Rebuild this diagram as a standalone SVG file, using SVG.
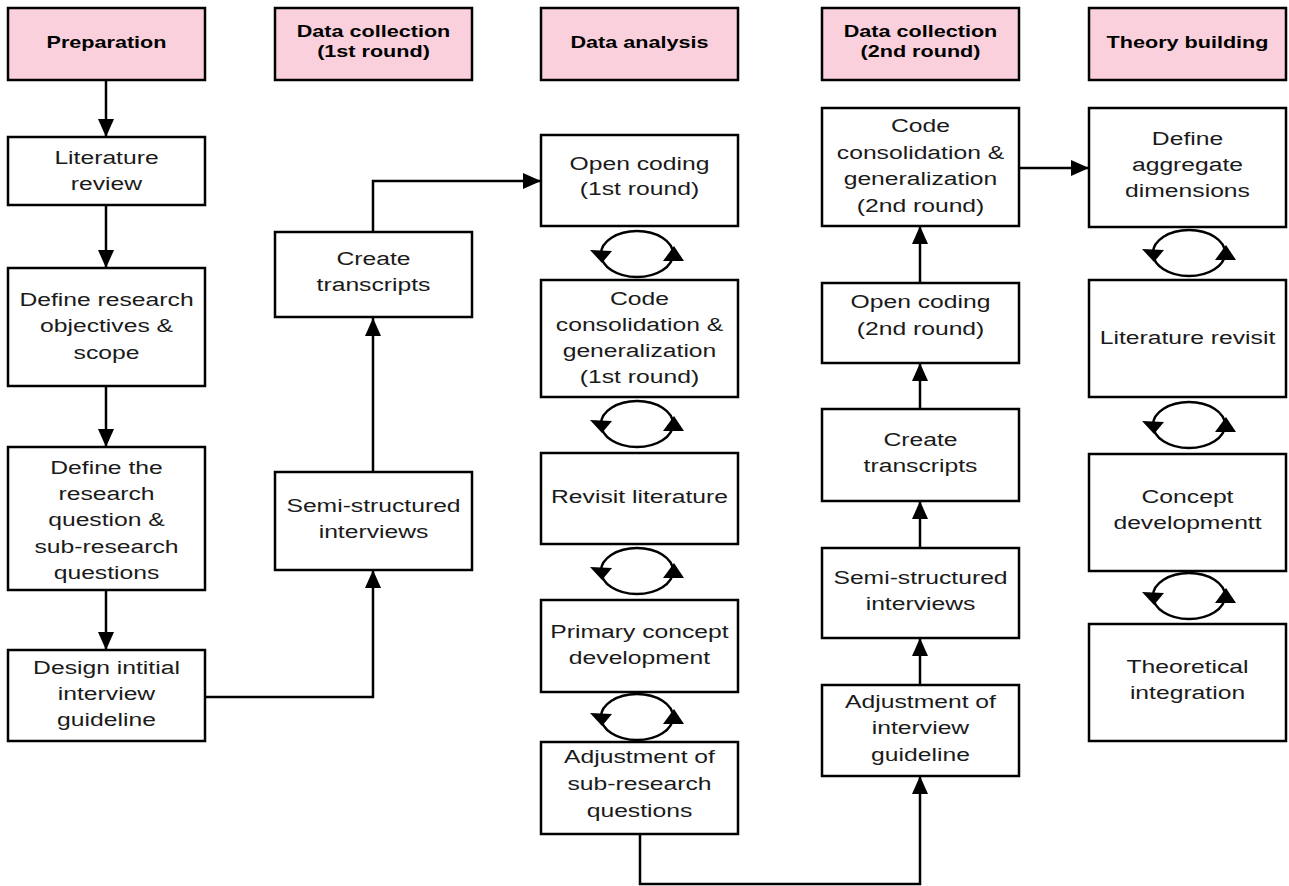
<svg xmlns="http://www.w3.org/2000/svg" width="1289" height="886" viewBox="0 0 1289 886">
<style>
.box{fill:#ffffff;stroke:#000000;stroke-width:2.5}
.hdr{fill:#f9d0dc;stroke:#000000;stroke-width:2.5}
.t{font-family:"Liberation Sans",Arial,sans-serif;font-size:19px;fill:#1a1a1a;text-anchor:middle}
.h{font-family:"Liberation Sans",Arial,sans-serif;font-size:17px;font-weight:bold;fill:#000000;text-anchor:middle}
.c{fill:none;stroke:#000000;stroke-width:2.5}
.cy{fill:none;stroke:#000000;stroke-width:2.5}
</style>
<defs>
<marker id="ah" markerUnits="userSpaceOnUse" markerWidth="18" markerHeight="16" refX="18" refY="8" orient="auto">
<path d="M0,0 L18,8 L0,16 z" fill="#000000"/>
</marker>
<g id="cycle">
<ellipse cx="0" cy="0" rx="36" ry="23" class="cy"/>
<polygon points="-47,-4 -25,-3 -35,9" fill="#000000"/>
<polygon points="26,7 47,7 37,-8" fill="#000000"/>
</g>
</defs>
<rect width="1289" height="886" fill="#ffffff"/>

<g id="headers">
<g id="h-prep"><rect class="hdr" x="8" y="8" width="197" height="72"/><text class="h" transform="matrix(1.27 0 0 1 106.5 0)"><tspan x="0" y="48">Preparation</tspan></text></g>
<g id="h-dc1"><rect class="hdr" x="275" y="8" width="197" height="72"/><text class="h" transform="matrix(1.27 0 0 1 373.5 0)"><tspan x="0" y="37">Data collection</tspan><tspan x="0" y="57">(1st round)</tspan></text></g>
<g id="h-da"><rect class="hdr" x="541" y="8" width="197" height="72"/><text class="h" transform="matrix(1.27 0 0 1 639.5 0)"><tspan x="0" y="48">Data analysis</tspan></text></g>
<g id="h-dc2"><rect class="hdr" x="822" y="8" width="197" height="72"/><text class="h" transform="matrix(1.27 0 0 1 920.5 0)"><tspan x="0" y="37">Data collection</tspan><tspan x="0" y="57">(2nd round)</tspan></text></g>
<g id="h-tb"><rect class="hdr" x="1089" y="8" width="197" height="72"/><text class="h" transform="matrix(1.27 0 0 1 1187.5 0)"><tspan x="0" y="48">Theory building</tspan></text></g>
</g>

<g id="connectors">
<line class="c" x1="106" y1="80" x2="106" y2="137" marker-end="url(#ah)"/>
<line class="c" x1="106" y1="205" x2="106" y2="268" marker-end="url(#ah)"/>
<line class="c" x1="106" y1="386" x2="106" y2="447" marker-end="url(#ah)"/>
<line class="c" x1="106" y1="590" x2="106" y2="650" marker-end="url(#ah)"/>
<polyline class="c" points="205,697 373,697 373,570" marker-end="url(#ah)"/>
<line class="c" x1="373" y1="472" x2="373" y2="318" marker-end="url(#ah)"/>
<polyline class="c" points="373,232 373,181 541,181" marker-end="url(#ah)"/>
<polyline class="c" points="640,834 640,884 920,884 920,776" marker-end="url(#ah)"/>
<line class="c" x1="920" y1="685" x2="920" y2="638" marker-end="url(#ah)"/>
<line class="c" x1="920" y1="548" x2="920" y2="501" marker-end="url(#ah)"/>
<line class="c" x1="920" y1="409" x2="920" y2="363" marker-end="url(#ah)"/>
<line class="c" x1="920" y1="283" x2="920" y2="226" marker-end="url(#ah)"/>
<line class="c" x1="1019" y1="168" x2="1089" y2="168" marker-end="url(#ah)"/>
<use href="#cycle" x="637" y="254"/>
<use href="#cycle" x="637" y="424"/>
<use href="#cycle" x="637" y="571"/>
<use href="#cycle" x="637" y="717"/>
<use href="#cycle" x="1189" y="253"/>
<use href="#cycle" x="1189" y="425"/>
<use href="#cycle" x="1189" y="596"/>
</g>

<g id="n-lit"><rect class="box" x="8" y="137" width="197" height="68"/><text class="t" transform="matrix(1.3 0 0 1 106.5 0)"><tspan x="0" y="164">Literature</tspan><tspan x="0" y="190">review</tspan></text></g>
<g id="n-obj"><rect class="box" x="8" y="268" width="197" height="118"/><text class="t" transform="matrix(1.3 0 0 1 106.5 0)"><tspan x="0" y="306">Define research</tspan><tspan x="0" y="332">objectives &amp;</tspan><tspan x="0" y="359">scope</tspan></text></g>
<g id="n-rq"><rect class="box" x="8" y="447" width="197" height="143"/><text class="t" transform="matrix(1.3 0 0 1 106.5 0)"><tspan x="0" y="474">Define the</tspan><tspan x="0" y="500">research</tspan><tspan x="0" y="526">question &amp;</tspan><tspan x="0" y="553">sub-research</tspan><tspan x="0" y="579">questions</tspan></text></g>
<g id="n-design"><rect class="box" x="8" y="650" width="197" height="91"/><text class="t" transform="matrix(1.3 0 0 1 106.5 0)"><tspan x="0" y="674">Design intitial</tspan><tspan x="0" y="700">interview</tspan><tspan x="0" y="726">guideline</tspan></text></g>

<g id="n-ct1"><rect class="box" x="275" y="232" width="197" height="85"/><text class="t" transform="matrix(1.3 0 0 1 373.5 0)"><tspan x="0" y="265">Create</tspan><tspan x="0" y="291">transcripts</tspan></text></g>
<g id="n-ssi1"><rect class="box" x="275" y="472" width="197" height="98"/><text class="t" transform="matrix(1.3 0 0 1 373.5 0)"><tspan x="0" y="512">Semi-structured</tspan><tspan x="0" y="538">interviews</tspan></text></g>

<g id="n-oc1"><rect class="box" x="541" y="135" width="197" height="91"/><text class="t" transform="matrix(1.3 0 0 1 639.5 0)"><tspan x="0" y="170">Open coding</tspan><tspan x="0" y="195">(1st round)</tspan></text></g>
<g id="n-cc1"><rect class="box" x="541" y="280" width="197" height="117"/><text class="t" transform="matrix(1.3 0 0 1 639.5 0)"><tspan x="0" y="305">Code</tspan><tspan x="0" y="331">consolidation &amp;</tspan><tspan x="0" y="357">generalization</tspan><tspan x="0" y="383">(1st round)</tspan></text></g>
<g id="n-rl"><rect class="box" x="541" y="453" width="197" height="91"/><text class="t" transform="matrix(1.3 0 0 1 639.5 0)"><tspan x="0" y="503">Revisit literature</tspan></text></g>
<g id="n-pcd"><rect class="box" x="541" y="600" width="197" height="92"/><text class="t" transform="matrix(1.3 0 0 1 639.5 0)"><tspan x="0" y="638">Primary concept</tspan><tspan x="0" y="664">development</tspan></text></g>
<g id="n-asr"><rect class="box" x="541" y="742" width="197" height="92"/><text class="t" transform="matrix(1.3 0 0 1 639.5 0)"><tspan x="0" y="763">Adjustment of</tspan><tspan x="0" y="790">sub-research</tspan><tspan x="0" y="817">questions</tspan></text></g>

<g id="n-cc2"><rect class="box" x="822" y="108" width="197" height="118"/><text class="t" transform="matrix(1.3 0 0 1 920.5 0)"><tspan x="0" y="132">Code</tspan><tspan x="0" y="159">consolidation &amp;</tspan><tspan x="0" y="185">generalization</tspan><tspan x="0" y="212">(2nd round)</tspan></text></g>
<g id="n-oc2"><rect class="box" x="822" y="283" width="197" height="80"/><text class="t" transform="matrix(1.3 0 0 1 920.5 0)"><tspan x="0" y="308">Open coding</tspan><tspan x="0" y="335">(2nd round)</tspan></text></g>
<g id="n-ct2"><rect class="box" x="822" y="409" width="197" height="92"/><text class="t" transform="matrix(1.3 0 0 1 920.5 0)"><tspan x="0" y="446">Create</tspan><tspan x="0" y="472">transcripts</tspan></text></g>
<g id="n-ssi2"><rect class="box" x="822" y="548" width="197" height="90"/><text class="t" transform="matrix(1.3 0 0 1 920.5 0)"><tspan x="0" y="584">Semi-structured</tspan><tspan x="0" y="610">interviews</tspan></text></g>
<g id="n-aig"><rect class="box" x="822" y="685" width="197" height="91"/><text class="t" transform="matrix(1.3 0 0 1 920.5 0)"><tspan x="0" y="708">Adjustment of</tspan><tspan x="0" y="734">interview</tspan><tspan x="0" y="761">guideline</tspan></text></g>

<g id="n-dad"><rect class="box" x="1089" y="108" width="197" height="119"/><text class="t" transform="matrix(1.3 0 0 1 1187.5 0)"><tspan x="0" y="145">Define</tspan><tspan x="0" y="171">aggregate</tspan><tspan x="0" y="197">dimensions</tspan></text></g>
<g id="n-lrv"><rect class="box" x="1089" y="280" width="197" height="117"/><text class="t" transform="matrix(1.3 0 0 1 1187.5 0)"><tspan x="0" y="344">Literature revisit</tspan></text></g>
<g id="n-cd"><rect class="box" x="1089" y="454" width="197" height="117"/><text class="t" transform="matrix(1.3 0 0 1 1187.5 0)"><tspan x="0" y="503">Concept</tspan><tspan x="0" y="529">developmentt</tspan></text></g>
<g id="n-ti"><rect class="box" x="1089" y="624" width="197" height="117"/><text class="t" transform="matrix(1.3 0 0 1 1187.5 0)"><tspan x="0" y="673">Theoretical</tspan><tspan x="0" y="699">integration</tspan></text></g>
</svg>
